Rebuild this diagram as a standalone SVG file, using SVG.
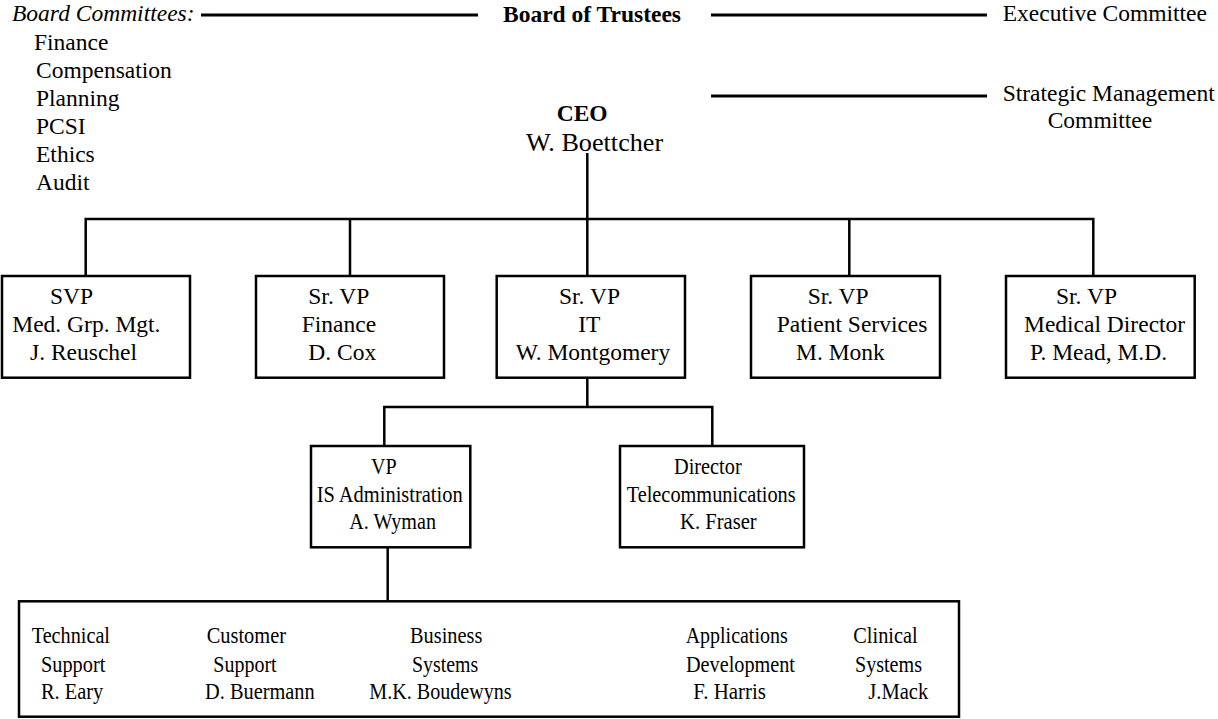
<svg xmlns="http://www.w3.org/2000/svg" width="1218" height="719" viewBox="0 0 1218 719">
<style>
text{font-family:"Liberation Serif","Times New Roman",serif;font-size:23.5px;fill:#000}
.b{font-weight:bold}
.i{font-style:italic}
.box{fill:#fff;stroke:#000;stroke-width:2.5}
.ln{stroke:#000;stroke-width:2.5;fill:none}
.tl{stroke:#000;stroke-width:3;fill:none}
</style>
<rect width="1218" height="719" fill="#fff"/>
<g id="connectors">
<line class="tl" x1="201" y1="15" x2="478" y2="15"/>
<line class="tl" x1="711" y1="15" x2="987" y2="15"/>
<line class="tl" x1="711" y1="96" x2="987" y2="96"/>
<polyline class="ln" points="587.3,153 587.3,276"/>
<polyline class="ln" points="85.7,276 85.7,219 1093.3,219 1093.3,276"/>
<line class="ln" x1="350" y1="219" x2="350" y2="276"/>
<line class="ln" x1="849.3" y1="219" x2="849.3" y2="276"/>
<polyline class="ln" points="587.3,378 587.3,407"/>
<polyline class="ln" points="384.3,446 384.3,407 712.3,407 712.3,446"/>
<line class="ln" x1="387.7" y1="547.3" x2="387.7" y2="601.3"/>
</g>
<g id="board">
<text class="i" x="12" y="21">Board Committees:</text>
<text class="b" x="503" y="22">Board of Trustees</text>
<text x="1002.7" y="21">Executive Committee</text>
</g>
<g id="committees">
<text x="34" y="50">Finance</text>
<text x="36" y="78">Compensation</text>
<text x="36" y="106">Planning</text>
<text x="36" y="134">PCSI</text>
<text x="36" y="162">Ethics</text>
<text x="36" y="190">Audit</text>
</g>
<g id="smc">
<text x="1002.7" y="101">Strategic Management</text>
<text x="1047.7" y="128">Committee</text>
</g>
<g id="ceo">
<text class="b" x="556.7" y="121">CEO</text>
<text x="526" y="151" style="font-size:26.2px">W. Boettcher</text>
</g>
<g id="svp-med">
<rect class="box" x="2" y="276" width="188" height="101.7"/>
<text x="50" y="303.5">SVP</text>
<text x="12.3" y="331.5">Med. Grp. Mgt.</text>
<text x="30" y="359.5">J. Reuschel</text>
</g>
<g id="svp-finance">
<rect class="box" x="256" y="276" width="188" height="101.7"/>
<text x="308.3" y="303.5">Sr. VP</text>
<text x="301.7" y="331.5">Finance</text>
<text x="308.3" y="359.5">D. Cox</text>
</g>
<g id="svp-it">
<rect class="box" x="496.7" y="276" width="188.3" height="101.7"/>
<text x="559" y="303.5">Sr. VP</text>
<text x="578.3" y="331.5">IT</text>
<text x="515.7" y="359.5">W. Montgomery</text>
</g>
<g id="svp-patient">
<rect class="box" x="751" y="276" width="189" height="101.7"/>
<text x="807.7" y="303.5">Sr. VP</text>
<text x="776.7" y="331.5">Patient Services</text>
<text x="796" y="359.5">M. Monk</text>
</g>
<g id="svp-medical">
<rect class="box" x="1006" y="276" width="188.7" height="101.7"/>
<text x="1056" y="303.5">Sr. VP</text>
<text x="1024" y="331.5">Medical Director</text>
<text x="1030" y="359.5">P. Mead, M.D.</text>
</g>
<g id="vp-is">
<rect class="box" x="311" y="446" width="159.3" height="101.3"/>
<text x="371" y="474" textLength="25.7" lengthAdjust="spacingAndGlyphs">VP</text>
<text x="316.7" y="501.7" textLength="146" lengthAdjust="spacingAndGlyphs">IS Administration</text>
<text x="349.3" y="529.3" textLength="86.7" lengthAdjust="spacingAndGlyphs">A. Wyman</text>
</g>
<g id="dir-telecom">
<rect class="box" x="620" y="446" width="184" height="101.3"/>
<text x="674" y="474" textLength="67.7" lengthAdjust="spacingAndGlyphs">Director</text>
<text x="626.7" y="501.7" textLength="169" lengthAdjust="spacingAndGlyphs">Telecommunications</text>
<text x="680" y="529.3" textLength="76.7" lengthAdjust="spacingAndGlyphs">K. Fraser</text>
</g>
<g id="is-units">
<rect class="box" x="19" y="601.3" width="940" height="115.4"/>
<text x="31.7" y="643.3" textLength="78.3" lengthAdjust="spacingAndGlyphs">Technical</text>
<text x="41" y="671.7" textLength="64.3" lengthAdjust="spacingAndGlyphs">Support</text>
<text x="41" y="699.3" textLength="62.3" lengthAdjust="spacingAndGlyphs">R. Eary</text>
<text x="206.7" y="643.3" textLength="79.3" lengthAdjust="spacingAndGlyphs">Customer</text>
<text x="213.3" y="671.7" textLength="63.3" lengthAdjust="spacingAndGlyphs">Support</text>
<text x="205" y="699.3" textLength="109.7" lengthAdjust="spacingAndGlyphs">D. Buermann</text>
<text x="410" y="643.3" textLength="72.3" lengthAdjust="spacingAndGlyphs">Business</text>
<text x="412" y="671.7" textLength="66.3" lengthAdjust="spacingAndGlyphs">Systems</text>
<text x="369.3" y="699.3" textLength="142.3" lengthAdjust="spacingAndGlyphs">M.K. Boudewyns</text>
<text x="685.7" y="643.3" textLength="102" lengthAdjust="spacingAndGlyphs">Applications</text>
<text x="686" y="671.7" textLength="109" lengthAdjust="spacingAndGlyphs">Development</text>
<text x="693.3" y="699.3" textLength="72.7" lengthAdjust="spacingAndGlyphs">F. Harris</text>
<text x="853.3" y="643.3" textLength="64.3" lengthAdjust="spacingAndGlyphs">Clinical</text>
<text x="855" y="671.7" textLength="67" lengthAdjust="spacingAndGlyphs">Systems</text>
<text x="868.3" y="699.3" textLength="60" lengthAdjust="spacingAndGlyphs">J.Mack</text>
</g>
</svg>
